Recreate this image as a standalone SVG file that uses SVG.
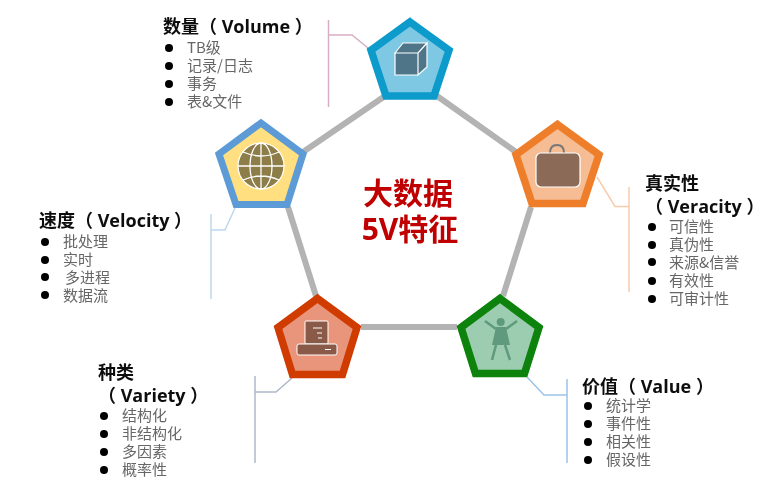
<svg xmlns="http://www.w3.org/2000/svg" width="768" height="503" viewBox="0 0 768 503">
<style>
text{font-family:"Open Sans","Noto Sans CJK SC",sans-serif}
.t{font-size:18px;font-weight:700;fill:#111}
.i{font-size:15px;fill:#666;font-family:"Noto Sans CJK SC","Open Sans",sans-serif}
.c{font-size:30px;font-weight:700;fill:#c00000;text-anchor:middle;font-family:"Open Sans","Noto Sans CJK SC",sans-serif}
.l{fill:none;stroke-width:1.5}
.e{stroke:#b3b3b3;stroke-width:6;fill:none}
.w{stroke:#fff;stroke-width:1.2}
</style>
<defs><filter id="b" x="-5%" y="-5%" width="110%" height="110%"><feGaussianBlur stdDeviation="0.55"/></filter></defs>
<rect width="768" height="503" fill="#fff"/>
<g filter="url(#b)">
<g id="connectors">
<path class="e" d="M385 96L303 152M437 96L516 152M531 207L503 296M361 327H457M316 296L288 207"/>
<path class="l" stroke="#d8aec4" d="M328.500 20V107M329 35H352L368 48"/>
<path class="l" stroke="#f8cbad" d="M629 187V292M629 206.500H615L597 177"/>
<path class="l" stroke="#9dc3e6" d="M567 379V463M567 395H544L527 377"/>
<path class="l" stroke="#adb9ca" d="M255 376V463M255 392H276L292 378"/>
<path class="l" stroke="#bdd7ee" d="M211 214V299M211 230H225L235 208"/>
</g>
<g id="node-volume">
<polygon points="410,22 449,50.300 434,96 386,96 371,50.300" fill="#7fc8e3" stroke="#0b9bcb" stroke-width="7.500"/>
<path d="M395 53H418V75H395ZM395 53L403 43H427L418 53ZM418 53L427 43V67L418 75Z" fill="#4f7488" stroke="#fff" stroke-width="1.200"/>
<text class="t" x="163" y="33">数量（ Volume ）</text>
<g fill="#000"><circle cx="169" cy="48" r="4"/><circle cx="169" cy="66" r="4"/><circle cx="169" cy="84" r="4"/><circle cx="169" cy="102" r="4"/></g>
<text class="i" x="187" y="53">TB级</text><text class="i" x="187" y="71">记录/日志</text><text class="i" x="187" y="89">事务</text><text class="i" x="187" y="107">表&amp;文件</text>
</g>
<g id="node-veracity">
<polygon points="557.500,124.500 599,154.700 583,203.500 532,203.500 516,154.700" fill="#f6bd94" stroke="#ee7e2b" stroke-width="7.500"/>
<path d="M550 153Q550 145 557 145Q564 145 564 153" fill="none" stroke="#777" stroke-width="2"/>
<rect x="536" y="153" width="44" height="34" rx="5" fill="#8b6a58" stroke="#fff" stroke-width="1.200"/>
<text class="t" x="645" y="190">真实性</text><text class="t" x="645" y="213">（ Veracity ）</text>
<g fill="#000"><circle cx="652" cy="227" r="4"/><circle cx="652" cy="245" r="4"/><circle cx="652" cy="262" r="4"/><circle cx="652" cy="281" r="4"/><circle cx="652" cy="299" r="4"/></g>
<text class="i" x="669" y="232">可信性</text><text class="i" x="669" y="250">真伪性</text><text class="i" x="669" y="268">来源&amp;信誉</text><text class="i" x="669" y="286">有效性</text><text class="i" x="669" y="304">可审计性</text>
</g>
<g id="node-value">
<polygon points="500,298.500 539,327.500 524.500,373.500 475.500,373.500 461,327.500" fill="#9ccdb0" stroke="#078207" stroke-width="7.500"/>
<circle cx="500.700" cy="322" r="4" fill="#5f9a7e"/>
<path d="M485 321L496 329M517 321L506 329" stroke="#5f9a7e" stroke-width="2.500" fill="none"/>
<path d="M496 327H506L510 345H492Z" fill="#5f9a7e"/>
<path d="M496 345L492 360M505 345L510 360" stroke="#5f9a7e" stroke-width="2.500" fill="none"/>
<text class="t" x="582" y="393">价值（ Value ）</text>
<g fill="#000"><circle cx="588" cy="406" r="4"/><circle cx="588" cy="424" r="4"/><circle cx="588" cy="442" r="4"/><circle cx="588" cy="460" r="4"/></g>
<text class="i" x="606" y="411">统计学</text><text class="i" x="606" y="429">事件性</text><text class="i" x="606" y="447">相关性</text><text class="i" x="606" y="465">假设性</text>
</g>
<g id="node-variety">
<polygon points="317.500,298.500 357,327.500 342.500,374.500 292.500,374.500 278,327.500" fill="#e8957b" stroke="#d03a00" stroke-width="7.500"/>
<rect x="305" y="321" width="23" height="23" rx="1" fill="#8a5a4a" stroke="#fff" stroke-width="1"/>
<rect x="297" y="344" width="40" height="11" rx="2" fill="#8a5a4a" stroke="#fff" stroke-width="1"/>
<path class="w" d="M313 328H322M317 333H322M318 338H322M325 349.500H331"/>
<text class="t" x="98" y="379">种类</text><text class="t" x="98" y="402">（ Variety ）</text>
<g fill="#000"><circle cx="104" cy="416" r="4"/><circle cx="104" cy="434" r="4"/><circle cx="104" cy="452" r="4"/><circle cx="104" cy="470" r="4"/></g>
<text class="i" x="122" y="421">结构化</text><text class="i" x="122" y="439">非结构化</text><text class="i" x="122" y="457">多因素</text><text class="i" x="122" y="475">概率性</text>
</g>
<g id="node-velocity">
<polygon points="261,123 303,154 287,204.500 236,204.500 219,154" fill="#ffdf7f" stroke="#5b9bd5" stroke-width="7"/>
<circle cx="261" cy="166" r="23" fill="#8c7d4a" stroke="#fff" stroke-width="1.200"/>
<g fill="none" stroke="#fff" stroke-width="1.300"><path d="M261 143V189M238 166H284M243 152Q261 160 279 152M243 180Q261 172 279 180"/><ellipse cx="261" cy="166" rx="11" ry="23"/></g>
<text class="t" x="39" y="227">速度（ Velocity ）</text>
<g fill="#000"><circle cx="45" cy="242" r="4"/><circle cx="45" cy="260" r="4"/><circle cx="45" cy="277" r="4"/><circle cx="45" cy="295" r="4"/></g>
<text class="i" x="63" y="247">批处理</text><text class="i" x="63" y="265">实时</text><text class="i" x="65" y="283">多进程</text><text class="i" x="63" y="301">数据流</text>
</g>
<g id="node-center">
<text class="c" x="408" y="204">大数据</text><text class="c" x="410" y="240">5V特征</text>
</g>
</g>
</svg>
